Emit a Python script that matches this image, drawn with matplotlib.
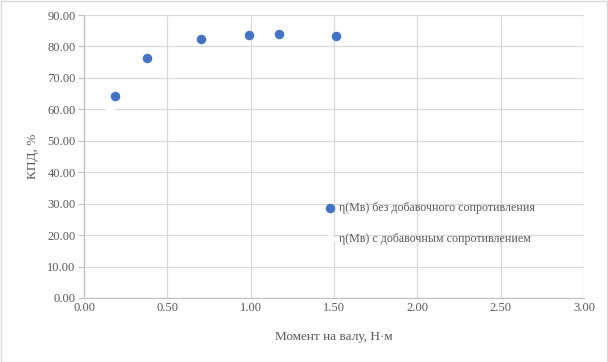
import matplotlib

matplotlib.use("Agg")

import matplotlib.pyplot as plt
from matplotlib.patches import Rectangle

# data
moment_plain = [0.186, 0.378, 0.702, 0.99, 1.17, 1.512]
kpd_plain = [64.2, 76.2, 82.3, 83.7, 83.9, 83.3]
moment_extra = [0.156]
kpd_extra = [60.1]

label_plain = "η(Mв) без добавочного сопротивления"
label_extra = "η(Mв) с добавочным сопротивлением"

x_ticks = [0.0, 0.5, 1.0, 1.5, 2.0, 2.5, 3.0]
y_ticks = [0, 10, 20, 30, 40, 50, 60, 70, 80, 90]

text_color = "#595959"
grid_color = "#d9d9d9"

plt.rcParams["font.family"] = ["Liberation Serif", "DejaVu Serif"]

fig = plt.figure(figsize=(6.08, 3.62), dpi=100)
ax = fig.add_axes([84 / 608, 64 / 362, 500 / 608, 283 / 362])

ax.scatter(moment_plain, kpd_plain, s=34, color="#4472c4", label=label_plain, zorder=3)
ax.scatter(moment_extra, kpd_extra, s=34, color="white", label=label_extra, zorder=3)

ax.set_xlim(0, 3)
ax.set_ylim(0, 90)
ax.set_xticks(x_ticks)
ax.set_yticks(y_ticks)
ax.set_xticklabels([f"{v:.2f}" for v in x_ticks])
ax.set_yticklabels([f"{v:.2f}" for v in y_ticks])
ax.grid(color=grid_color, linewidth=0.9, zorder=0)
ax.set_axisbelow(True)

for side in ("top", "right"):
    ax.spines[side].set_visible(False)
for side in ("left", "bottom"):
    ax.spines[side].set_color("#bfbfbf")
ax.tick_params(axis="y", length=4, color="#bfbfbf", labelcolor=text_color, labelsize=9, pad=2)
ax.tick_params(axis="x", length=0, labelcolor=text_color, labelsize=9, pad=3)

ax.set_xlabel("Момент на валу, Н·м", color=text_color, fontsize=9.5, labelpad=12)
ax.set_ylabel("КПД, %", color=text_color, fontsize=9.5, labelpad=6)

ax.legend(
    loc="center left",
    bbox_to_anchor=(0.447, 0.263),
    frameon=False,
    fontsize=8.6,
    handletextpad=-0.3,
    labelspacing=1.6,
    labelcolor=text_color,
    markerscale=1.0,
)

fig.patches.append(
    Rectangle((0.001, 0.001), 0.997, 0.997, transform=fig.transFigure,
              fill=False, edgecolor="#d9d9d9", linewidth=1)
)

fig.savefig("out.png", dpi=100)
plt.close(fig)
